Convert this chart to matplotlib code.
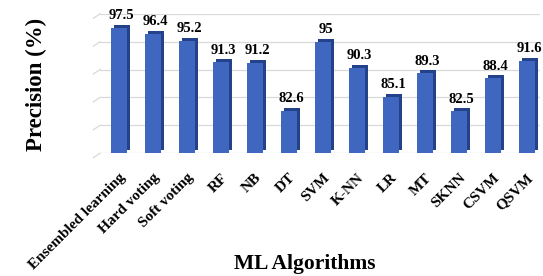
import matplotlib.pyplot as plt
import matplotlib.transforms as mtransforms

algorithms = ["Ensembled learning", "Hard voting", "Soft voting", "RF", "NB", "DT",
              "SVM", "K-NN", "LR", "MT", "SKNN", "CSVM", "QSVM"]
precision = [97.5, 96.4, 95.2, 91.3, 91.2, 82.6, 95, 90.3, 85.1, 89.3, 82.5, 88.4, 91.6]
labels = ["97.5", "96.4", "95.2", "91.3", "91.2", "82.6", "95", "90.3", "85.1",
          "89.3", "82.5", "88.4", "91.6"]

plt.rcParams['font.family'] = ['Liberation Serif', 'DejaVu Serif']

fig = plt.figure(figsize=(5.43, 2.76), dpi=100)
ax = fig.add_axes([0.175, 0.445, 0.82, 0.505])

base = 75
x = range(len(algorithms))
heights = [p - base for p in precision]

# gridlines (light grey, slight perspective at left end)
for g in [75, 80, 85, 90, 95, 100]:
    ax.plot([-0.55, 12.45], [g, g], color="#d9d9d9", lw=0.9, zorder=0)
    ax.plot([-0.75, -0.55], [g - 0.8, g], color="#d9d9d9", lw=0.9, zorder=0,
            clip_on=False)

# 3d look: dark bar behind, shifted right and up
shift = mtransforms.offset_copy(ax.transData, fig=fig, x=3.5, y=3, units="dots")
back = ax.bar(x, heights, width=0.47, bottom=base, color="#23428a", zorder=2)
for b in back:
    b.set_transform(shift)
ax.bar(x, heights, width=0.47, bottom=base, color="#3f67bf", zorder=3)

for i, p in enumerate(precision):
    ax.annotate(labels[i], (i, p), xytext=(2, 4), textcoords="offset points",
                ha="center", va="bottom", fontsize=10.5, fontweight="bold")

ax.set_xlim(-0.7, 12.4)
ax.set_ylim(75, 100)
ax.set_yticks([])
ax.set_xticks(list(x))
ax.set_xticklabels(algorithms, rotation=45, ha="right", rotation_mode="anchor",
                   fontsize=11, fontweight="bold")
ax.tick_params(axis="x", length=0, pad=13)
for s in ax.spines.values():
    s.set_visible(False)

fig.text(0.068, 0.695, "Precision (%)", rotation=90, ha="center", va="center",
         fontsize=16.5, fontweight="bold")
fig.text(0.562, 0.025, "ML Algorithms", ha="center", fontsize=15.5, fontweight="bold")

fig.savefig("out.png", dpi=100)
